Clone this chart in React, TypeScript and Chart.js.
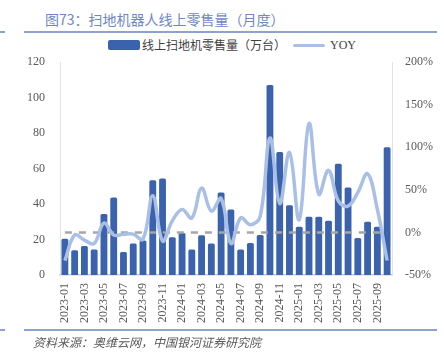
import React, { useEffect, useRef } from "react";
import { Chart, registerables } from "chart.js";

Chart.register(...registerables);

const categories = [
  "2023-01", "2023-02", "2023-03", "2023-04", "2023-05", "2023-06",
  "2023-07", "2023-08", "2023-09", "2023-10", "2023-11", "2023-12",
  "2024-01", "2024-02", "2024-03", "2024-04", "2024-05", "2024-06",
  "2024-07", "2024-08", "2024-09", "2024-10", "2024-11", "2024-12",
  "2025-01", "2025-02", "2025-03", "2025-04", "2025-05", "2025-06",
  "2025-07", "2025-08", "2025-09", "2025-10",
];

const salesVolume = [
  20.4, 14, 16.3, 14.4, 34.4, 43.7, 13, 17.8, 19.4, 53.5, 54.4, 21.3,
  23.7, 14.4, 22.4, 17.8, 46.5, 37, 14.4, 18, 22.6, 107.2, 69.3, 39.3,
  27.2, 32.8, 32.8, 30.6, 62.8, 49.3, 20.9, 30, 27.2, 72,
];

const yoyPercent = [
  -33, -3, -9, -13, 11, -3, -2, -2, -8, 43, -10, 13.5,
  27, 17, 52, 25, 40, -13, 17, 9, 19, 111, 34, 94,
  15, 128, 45, 73, 37, 31, 47, 69, 27, -33,
];

const zeroLine = categories.map(() => 0);

const leftTicks = [0, 20, 40, 60, 80, 100, 120];
const rightTicks = [-50, 0, 50, 100, 150, 200];

const FONT = '"Liberation Serif", "Times New Roman", "Noto Sans CJK SC", serif';
const CJK = '"Noto Sans CJK SC", "Liberation Sans", sans-serif';

export default function App() {
  const ref = useRef<HTMLCanvasElement | null>(null);

  useEffect(() => {
    if (!ref.current) return;
    const chart = new Chart(ref.current, {
      type: "bar",
      data: {
        labels: categories,
        datasets: [
          {
            type: "line",
            label: "YOY",
            data: yoyPercent,
            yAxisID: "y1",
            borderColor: "#a9bfe6",
            backgroundColor: "#a9bfe6",
            borderWidth: 3.5,
            pointRadius: 0,
            tension: 0.4,
            order: 1,
          },
          {
            type: "line",
            label: "zero",
            data: zeroLine,
            yAxisID: "y1",
            borderColor: "#a6a6a6",
            borderWidth: 2.5,
            borderDash: [7, 7],
            pointRadius: 0,
            order: 2,
          },
          {
            type: "bar",
            label: "线上扫地机零售量（万台）",
            data: salesVolume,
            yAxisID: "y",
            backgroundColor: "#3b63ad",
            borderRadius: 1.5,
            categoryPercentage: 1,
            barPercentage: 0.7,
            order: 3,
          },
        ],
      },
      options: {
        responsive: false,
        animation: false,
        layout: { padding: { top: 13, left: 0, right: 0, bottom: 0 } },
        plugins: {
          legend: { display: false },
          tooltip: { enabled: false },
        },
        scales: {
          x: {
            grid: { display: false, drawTicks: false },
            border: { display: true, color: "#c5d0e4", width: 1.5 },
            ticks: {
              autoSkip: false,
              maxRotation: 90,
              minRotation: 90,
              padding: 8,
              color: "#595959",
              font: { family: FONT, size: 12 },
              callback: (_v: any, i: number) => (i % 2 === 0 ? categories[i] : ""),
            },
            afterFit: (s: any) => {
              s.height = 55;
            },
          },
          y: {
            position: "left",
            min: 0,
            max: 120,
            afterBuildTicks: (s: any) => {
              s.ticks = leftTicks.map((v) => ({ value: v }));
            },
            grid: { display: false, drawTicks: false },
            border: { display: true, color: "#e3e3e3" },
            ticks: {
              padding: 15,
              color: "#595959",
              font: { family: FONT, size: 12 },
            },
            afterFit: (s: any) => {
              s.width = 60;
            },
          },
          y1: {
            position: "right",
            min: -50,
            max: 200,
            afterBuildTicks: (s: any) => {
              s.ticks = rightTicks.map((v) => ({ value: v }));
            },
            grid: { display: false, drawTicks: false },
            border: { display: true, color: "#e3e3e3" },
            ticks: {
              padding: 13,
              color: "#595959",
              font: { family: FONT, size: 12 },
              callback: (v: any) => `${v}%`,
            },
            afterFit: (s: any) => {
              s.width = 52;
            },
          },
        },
      },
    });
    return () => chart.destroy();
  }, []);

  return (
    <div style={{ position: "absolute", left: 0, top: 0, width: 444, height: 362, background: "#fff", overflow: "hidden" }}>
      <div style={{ position: "absolute", left: 45, top: 9, fontFamily: CJK, fontSize: 14, color: "#6d88c4", whiteSpace: "nowrap", lineHeight: "20px" }}>
        图73：扫地机器人线上零售量（月度）
      </div>
      <div style={{ position: "absolute", left: 24, top: 31, width: 413, height: 1.5, background: "#8ea2cf" }} />
      <div style={{ position: "absolute", left: 0, top: 31, width: 5, height: 1.5, background: "#8ea2cf" }} />
      {/* legend */}
      <div style={{ position: "absolute", left: 108, top: 40, width: 32, height: 10, background: "#3b63ad", borderRadius: 2 }} />
      <div style={{ position: "absolute", left: 142, top: 37, fontFamily: CJK, fontSize: 12, color: "#404040", whiteSpace: "nowrap", lineHeight: "16px" }}>
        线上扫地机零售量（万台）
      </div>
      <div style={{ position: "absolute", left: 293, top: 43.5, width: 32, height: 3.5, background: "#a9bfe6", borderRadius: 2 }} />
      <div style={{ position: "absolute", left: 330, top: 37, fontFamily: FONT, fontSize: 12, color: "#404040", whiteSpace: "nowrap", lineHeight: "16px" }}>
        YOY
      </div>
      <canvas ref={ref} width={444} height={290} style={{ position: "absolute", left: 0, top: 40, width: 444, height: 290 }} />
      <div style={{ position: "absolute", left: 24, top: 329, width: 413, height: 1.5, background: "#8ea2cf" }} />
      <div style={{ position: "absolute", left: 0, top: 329, width: 5, height: 1.5, background: "#8ea2cf" }} />
      <div style={{ position: "absolute", left: 33, top: 334, fontFamily: CJK, fontStyle: "italic", fontSize: 12, color: "#595959", whiteSpace: "nowrap", lineHeight: "16px" }}>
        资料来源：奥维云网，中国银河证券研究院
      </div>
    </div>
  );
}
